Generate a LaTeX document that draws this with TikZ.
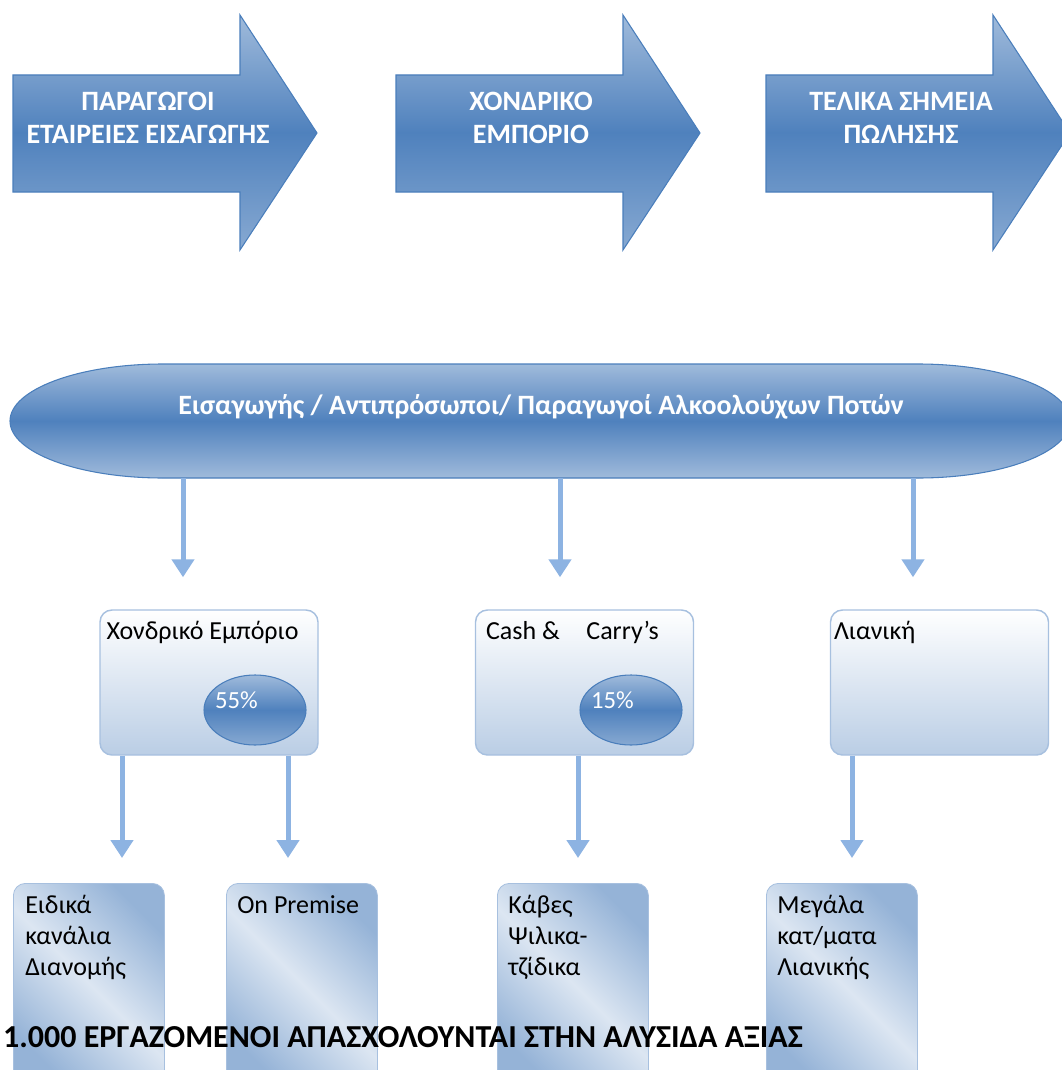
\documentclass[tikz,border=0pt]{standalone}
\usepackage{fontspec}
\setmainfont{Carlito}
\usetikzlibrary{arrows.meta,shapes.geometric}

\definecolor{accent}{HTML}{4F81BD}
\definecolor{accentlt}{HTML}{95B3D7}
\definecolor{accentpale}{HTML}{DCE6F2}
\definecolor{edgeblue}{HTML}{4A7EBB}
\definecolor{linkblue}{HTML}{8DB3E2}
\definecolor{boxedge}{HTML}{A7C0DF}

\tikzset{
  stage/.style={draw=edgeblue, line width=0.8pt, top color=accentlt!90!white, bottom color=accentlt!80!accent, middle color=accent},
  stagetext/.style={text=white, align=center, font=\fontsize{21}{24.75}\selectfont\bfseries},
  chainbar/.style={draw=edgeblue, line width=0.8pt, top color=accentlt!90!white, bottom color=accentlt!90!white, middle color=accent},
  channel/.style={draw=boxedge, line width=1.1pt, rounded corners=9pt, top color=white, bottom color=accentlt!65!white, minimum width=163.5pt, minimum height=108.75pt},
  share/.style={ellipse, draw=edgeblue, line width=0.8pt, top color=accentlt!90!white, bottom color=accentlt!80!accent, middle color=accent, minimum width=76.5pt, minimum height=52.5pt},
  outlet/.style={draw=boxedge, line width=0.6pt, rounded corners=9pt, top color=accentlt, bottom color=accentlt, middle color=accentpale, shading angle=-45, minimum width=113.25pt, minimum height=150pt},
  boxtext/.style={inner sep=0pt, font=\fontsize{19.5}{23.6}\selectfont, align=left},
  link/.style={draw=linkblue, line width=3.75pt, -{Triangle[width=16.5pt,length=13.5pt]}}
}

\begin{document}
\begin{tikzpicture}[x=0.75pt, y=-0.75pt]
\useasboundingbox (0,0) rectangle (1062,1070);
\clip (0,0) rectangle (1062,1070);

% stage arrows along the top
\foreach \x/\nm/\txt in {13/prod/{ΠΑΡΑΓΩΓΟΙ\\ΕΤΑΙΡΕΙΕΣ ΕΙΣΑΓΩΓΗΣ}, 396/whsl/{ΧΟΝΔΡΙΚΟ\\ΕΜΠΟΡΙΟ}, 766/pos/{ΤΕΛΙΚΑ ΣΗΜΕΙΑ\\ΠΩΛΗΣΗΣ}}{
  \path[stage] (\x,75) -- ++(227,0) -- ++(0,-60) -- ++(77,118) -- ++(-77,117) -- ++(0,-58) -- ++(-227,0) -- cycle;
  \node[stagetext] (\nm) at (\x+135,118) {\txt};
}

% importers / producers bar
\path[chainbar] (163,364) -- (918,364) arc[start angle=-90, end angle=90, x radius=152, y radius=57] -- (163,478) arc[start angle=90, end angle=270, x radius=153, y radius=57] -- cycle;
\node[text=white, font=\fontsize{21}{24}\selectfont\bfseries] (chain) at (541,407) {Εισαγωγής / Αντιπρόσωποι/ Παραγωγοί Αλκοολούχων Ποτών};
\coordinate (chainS) at (541,478);

% channels
\node[channel] (whs) at (209,682.5) {};
\node[channel] (cc) at (584.5,682.5) {};
\node[channel] (ret) at (939.5,682.5) {};
\node[boxtext, anchor=base west] (whst) at ([xshift=5.25pt, yshift=-22.5pt]whs.north west) {Χονδρικό Εμπόριο};
\node[boxtext, anchor=base west] (cct) at ([xshift=8.25pt, yshift=-22.5pt]cc.north west) {Cash \&\hspace{20pt}Carry’s};
\node[boxtext, anchor=base west] (rett) at ([xshift=3pt, yshift=-22.5pt]ret.north west) {Λιανική};

\node[share] (sh55) at (255,710) {};
\node[share] (sh15) at (631,710) {};
\node[text=white, font=\fontsize{18.5}{20}\selectfont] (p55) at ([xshift=-14pt, yshift=7.5pt]sh55.center) {55\%};
\node[text=white, font=\fontsize{18.5}{20}\selectfont] (p15) at ([xshift=-14pt, yshift=7.5pt]sh15.center) {15\%};

% points of sale
\node[outlet, anchor=north west] (spec) at (13,883) {};
\node[outlet, anchor=north west] (onp) at (226,883) {};
\node[outlet, anchor=north west] (kav) at (497,883) {};
\node[outlet, anchor=north west] (big) at (766,883) {};
\node[boxtext, anchor=base west] at ([xshift=9pt, yshift=-69.7pt]spec.north west) {Ειδικά\\κανάλια\\Διανομής};
\node[boxtext, anchor=base west] at ([xshift=8.25pt, yshift=-22.5pt]onp.north west) {On Premise};
\node[boxtext, anchor=base west] at ([xshift=8.25pt, yshift=-69.7pt]kav.north west) {Κάβες\\Ψιλικα-\\τζίδικα};
\node[boxtext, anchor=base west] at ([xshift=8.25pt, yshift=-69.7pt]big.north west) {Μεγάλα\\κατ/ματα\\Λιανικής};

% flow arrows
\coordinate (a1) at (183,0);
\coordinate (a2) at (560,0);
\coordinate (a3) at (913,0);
\draw[link, shorten >=24pt] (chainS -| a1) -- (whs.north -| a1);
\draw[link, shorten >=24pt] (chainS -| a2) -- (cc.north -| a2);
\draw[link, shorten >=24pt] (chainS -| a3) -- (ret.north -| a3);

\coordinate (b1) at (122,0);
\coordinate (b2) at (288,0);
\coordinate (b3) at (578,0);
\coordinate (b4) at (852,0);
\draw[link, shorten >=18.75pt] (whs.south -| b1) -- (spec.north -| b1);
\draw[link, shorten >=18.75pt] (whs.south -| b2) -- (onp.north -| b2);
\draw[link, shorten >=18.75pt] (cc.south -| b3) -- (kav.north -| b3);
\draw[link, shorten >=18.75pt] (ret.south -| b4) -- (big.north -| b4);

\node[anchor=base east, inner sep=0pt, font=\fontsize{24}{26}\selectfont\bfseries] (jobs) at (803,1047) {1.000 ΕΡΓΑΖΟΜΕΝΟΙ ΑΠΑΣΧΟΛΟΥΝΤΑΙ ΣΤΗΝ ΑΛΥΣΙΔΑ ΑΞΙΑΣ};
\end{tikzpicture}
\end{document}
